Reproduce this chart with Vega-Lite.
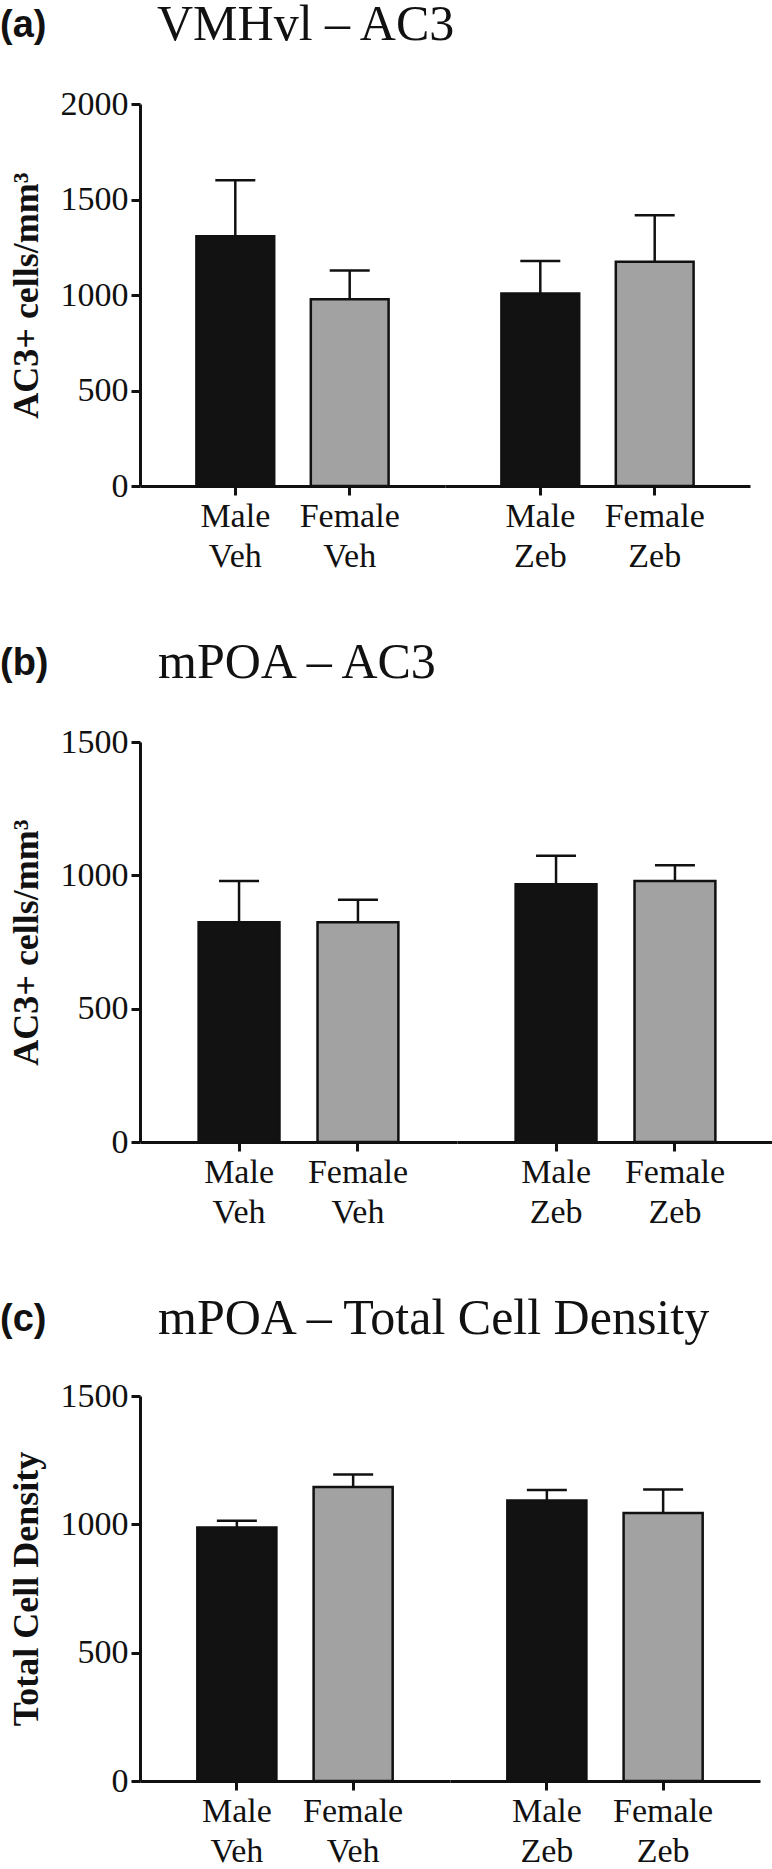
{
  "$schema": "https://vega.github.io/schema/vega-lite/v6.json",
  "background": "white",
  "padding": {"left": 0, "top": 0, "right": 0, "bottom": 0},
  "config": {
    "view": {"stroke": null},
    "axis": {"domainColor": "#111111", "domainWidth": 3, "tickColor": "#111111", "tickWidth": 3, "tickSize": 9, "labelFont": "Liberation Serif", "labelFontSize": 34, "labelColor": "#111111", "grid": false, "titleFont": "Liberation Serif", "titleFontSize": 36, "titleFontWeight": "bold", "titleColor": "#111111"},
    "title": {"color": "#111111", "anchor": "start", "frame": "group", "baseline": "alphabetic"}
  },
  "datasets": {
    "d": [
      {"panel": "a", "group": "Male Veh", "sex": "Male", "treatment": "Veh", "mean": 1307, "upper": 1601},
      {"panel": "a", "group": "Female Veh", "sex": "Female", "treatment": "Veh", "mean": 978, "upper": 1128},
      {"panel": "a", "group": "Male Zeb", "sex": "Male", "treatment": "Zeb", "mean": 1008, "upper": 1178},
      {"panel": "a", "group": "Female Zeb", "sex": "Female", "treatment": "Zeb", "mean": 1174, "upper": 1417},
      {"panel": "b", "group": "Male Veh", "sex": "Male", "treatment": "Veh", "mean": 824, "upper": 979},
      {"panel": "b", "group": "Female Veh", "sex": "Female", "treatment": "Veh", "mean": 824, "upper": 908},
      {"panel": "b", "group": "Male Zeb", "sex": "Male", "treatment": "Zeb", "mean": 967, "upper": 1073},
      {"panel": "b", "group": "Female Zeb", "sex": "Female", "treatment": "Zeb", "mean": 979, "upper": 1038},
      {"panel": "c", "group": "Male Veh", "sex": "Male", "treatment": "Veh", "mean": 988, "upper": 1014},
      {"panel": "c", "group": "Female Veh", "sex": "Female", "treatment": "Veh", "mean": 1145, "upper": 1194},
      {"panel": "c", "group": "Male Zeb", "sex": "Male", "treatment": "Zeb", "mean": 1093, "upper": 1134},
      {"panel": "c", "group": "Female Zeb", "sex": "Female", "treatment": "Zeb", "mean": 1044, "upper": 1136}
    ]
  },
  "vconcat": [
    {
      "hconcat": [
        {
          "width": 305, "height": 382,
          "data": {"name": "d"},
          "transform": [{"filter": "datum.panel == 'a' && datum.treatment == 'Veh'"}],
          "title": {"text": "(a)", "font": "Liberation Sans", "fontWeight": "bold", "fontSize": 38, "dx": -140, "offset": 42},
          "encoding": {"x": {"field": "group", "type": "nominal", "sort": null, "scale": {"paddingInner": 0.32, "paddingOuter": 0.493}, "axis": {"title": null, "labelAngle": 0, "labelExpr": "split(datum.label, ' ')", "labelLineHeight": 40, "labelPadding": 4}}},
          "layer": [
            {"mark": {"type": "rule", "strokeWidth": 2.5, "color": "#111111"}, "encoding": {"y": {"field": "mean", "type": "quantitative", "title": "AC3+ cells/mm³", "scale": {"domain": [0, 2000], "nice": false}, "axis": {"values": [0, 500, 1000, 1500, 2000], "format": "d", "labelPadding": 3, "titlePadding": 15}}, "y2": {"field": "upper"}}},
            {"mark": {"type": "tick", "size": 40, "thickness": 2.5, "color": "#111111", "opacity": 1}, "encoding": {"y": {"field": "upper", "type": "quantitative", "title": "AC3+ cells/mm³"}}},
            {"mark": {"type": "bar", "stroke": "#111111", "strokeWidth": 2.5, "opacity": 1}, "encoding": {"y": {"field": "mean", "type": "quantitative", "title": "AC3+ cells/mm³"}, "color": {"field": "sex", "type": "nominal", "scale": {"domain": ["Male", "Female"], "range": ["#121212", "#a2a2a2"]}, "legend": null}}}
          ]
        },
        {
          "width": 305, "height": 382,
          "data": {"name": "d"},
          "transform": [{"filter": "datum.panel == 'a' && datum.treatment == 'Zeb'"}],
          "title": {"text": "VMHvl – AC3", "font": "Liberation Serif", "fontWeight": "normal", "fontSize": 50, "dx": -288, "offset": 54},
          "encoding": {"x": {"field": "group", "type": "nominal", "sort": null, "scale": {"paddingInner": 0.32, "paddingOuter": 0.493}, "axis": {"title": null, "labelAngle": 0, "labelExpr": "split(datum.label, ' ')", "labelLineHeight": 40, "labelPadding": 4}}},
          "layer": [
            {"mark": {"type": "rule", "strokeWidth": 2.5, "color": "#111111"}, "encoding": {"y": {"field": "mean", "type": "quantitative", "scale": {"domain": [0, 2000], "nice": false}, "axis": null}, "y2": {"field": "upper"}}},
            {"mark": {"type": "tick", "size": 40, "thickness": 2.5, "color": "#111111", "opacity": 1}, "encoding": {"y": {"field": "upper", "type": "quantitative", "axis": null}}},
            {"mark": {"type": "bar", "stroke": "#111111", "strokeWidth": 2.5, "opacity": 1}, "encoding": {"y": {"field": "mean", "type": "quantitative", "axis": null}, "color": {"field": "sex", "type": "nominal", "scale": {"domain": ["Male", "Female"], "range": ["#121212", "#a2a2a2"]}, "legend": null}}}
          ]
        }
      ],
      "spacing": 0,
      "bounds": "flush"
    },
    {
      "hconcat": [
        {
          "width": 317, "height": 400,
          "data": {"name": "d"},
          "transform": [{"filter": "datum.panel == 'b' && datum.treatment == 'Veh'"}],
          "title": {"text": "(b)", "font": "Liberation Sans", "fontWeight": "bold", "fontSize": 38, "dx": -140, "offset": 42},
          "encoding": {"x": {"field": "group", "type": "nominal", "sort": null, "scale": {"paddingInner": 0.32, "paddingOuter": 0.493}, "axis": {"title": null, "labelAngle": 0, "labelExpr": "split(datum.label, ' ')", "labelLineHeight": 40, "labelPadding": 4}}},
          "layer": [
            {"mark": {"type": "rule", "strokeWidth": 2.5, "color": "#111111"}, "encoding": {"y": {"field": "mean", "type": "quantitative", "title": "AC3+ cells/mm³", "scale": {"domain": [0, 1500], "nice": false}, "axis": {"values": [0, 500, 1000, 1500], "format": "d", "labelPadding": 3, "titlePadding": 15}}, "y2": {"field": "upper"}}},
            {"mark": {"type": "tick", "size": 40, "thickness": 2.5, "color": "#111111", "opacity": 1}, "encoding": {"y": {"field": "upper", "type": "quantitative", "title": "AC3+ cells/mm³"}}},
            {"mark": {"type": "bar", "stroke": "#111111", "strokeWidth": 2.5, "opacity": 1}, "encoding": {"y": {"field": "mean", "type": "quantitative", "title": "AC3+ cells/mm³"}, "color": {"field": "sex", "type": "nominal", "scale": {"domain": ["Male", "Female"], "range": ["#121212", "#a2a2a2"]}, "legend": null}}}
          ]
        },
        {
          "width": 317, "height": 400,
          "data": {"name": "d"},
          "transform": [{"filter": "datum.panel == 'b' && datum.treatment == 'Zeb'"}],
          "title": {"text": "mPOA – AC3", "font": "Liberation Serif", "fontWeight": "normal", "fontSize": 50, "dx": -299, "offset": 54},
          "encoding": {"x": {"field": "group", "type": "nominal", "sort": null, "scale": {"paddingInner": 0.32, "paddingOuter": 0.493}, "axis": {"title": null, "labelAngle": 0, "labelExpr": "split(datum.label, ' ')", "labelLineHeight": 40, "labelPadding": 4}}},
          "layer": [
            {"mark": {"type": "rule", "strokeWidth": 2.5, "color": "#111111"}, "encoding": {"y": {"field": "mean", "type": "quantitative", "scale": {"domain": [0, 1500], "nice": false}, "axis": null}, "y2": {"field": "upper"}}},
            {"mark": {"type": "tick", "size": 40, "thickness": 2.5, "color": "#111111", "opacity": 1}, "encoding": {"y": {"field": "upper", "type": "quantitative", "axis": null}}},
            {"mark": {"type": "bar", "stroke": "#111111", "strokeWidth": 2.5, "opacity": 1}, "encoding": {"y": {"field": "mean", "type": "quantitative", "axis": null}, "color": {"field": "sex", "type": "nominal", "scale": {"domain": ["Male", "Female"], "range": ["#121212", "#a2a2a2"]}, "legend": null}}}
          ]
        }
      ],
      "spacing": 0,
      "bounds": "flush"
    },
    {
      "hconcat": [
        {
          "width": 310, "height": 385,
          "data": {"name": "d"},
          "transform": [{"filter": "datum.panel == 'c' && datum.treatment == 'Veh'"}],
          "title": {"text": "(c)", "font": "Liberation Sans", "fontWeight": "bold", "fontSize": 38, "dx": -140, "offset": 40},
          "encoding": {"x": {"field": "group", "type": "nominal", "sort": null, "scale": {"paddingInner": 0.32, "paddingOuter": 0.493}, "axis": {"title": null, "labelAngle": 0, "labelExpr": "split(datum.label, ' ')", "labelLineHeight": 40, "labelPadding": 4}}},
          "layer": [
            {"mark": {"type": "rule", "strokeWidth": 2.5, "color": "#111111"}, "encoding": {"y": {"field": "mean", "type": "quantitative", "title": "Total Cell Density", "scale": {"domain": [0, 1500], "nice": false}, "axis": {"values": [0, 500, 1000, 1500], "format": "d", "labelPadding": 3, "titlePadding": 15}}, "y2": {"field": "upper"}}},
            {"mark": {"type": "tick", "size": 40, "thickness": 2.5, "color": "#111111", "opacity": 1}, "encoding": {"y": {"field": "upper", "type": "quantitative", "title": "Total Cell Density"}}},
            {"mark": {"type": "bar", "stroke": "#111111", "strokeWidth": 2.5, "opacity": 1}, "encoding": {"y": {"field": "mean", "type": "quantitative", "title": "Total Cell Density"}, "color": {"field": "sex", "type": "nominal", "scale": {"domain": ["Male", "Female"], "range": ["#121212", "#a2a2a2"]}, "legend": null}}}
          ]
        },
        {
          "width": 310, "height": 385,
          "data": {"name": "d"},
          "transform": [{"filter": "datum.panel == 'c' && datum.treatment == 'Zeb'"}],
          "title": {"text": "mPOA – Total Cell Density", "font": "Liberation Serif", "fontWeight": "normal", "fontSize": 50, "dx": -292, "offset": 52},
          "encoding": {"x": {"field": "group", "type": "nominal", "sort": null, "scale": {"paddingInner": 0.32, "paddingOuter": 0.493}, "axis": {"title": null, "labelAngle": 0, "labelExpr": "split(datum.label, ' ')", "labelLineHeight": 40, "labelPadding": 4}}},
          "layer": [
            {"mark": {"type": "rule", "strokeWidth": 2.5, "color": "#111111"}, "encoding": {"y": {"field": "mean", "type": "quantitative", "scale": {"domain": [0, 1500], "nice": false}, "axis": null}, "y2": {"field": "upper"}}},
            {"mark": {"type": "tick", "size": 40, "thickness": 2.5, "color": "#111111", "opacity": 1}, "encoding": {"y": {"field": "upper", "type": "quantitative", "axis": null}}},
            {"mark": {"type": "bar", "stroke": "#111111", "strokeWidth": 2.5, "opacity": 1}, "encoding": {"y": {"field": "mean", "type": "quantitative", "axis": null}, "color": {"field": "sex", "type": "nominal", "scale": {"domain": ["Male", "Female"], "range": ["#121212", "#a2a2a2"]}, "legend": null}}}
          ]
        }
      ],
      "spacing": 0,
      "bounds": "flush"
    }
  ],
  "spacing": 65,
  "bounds": "full"
}
